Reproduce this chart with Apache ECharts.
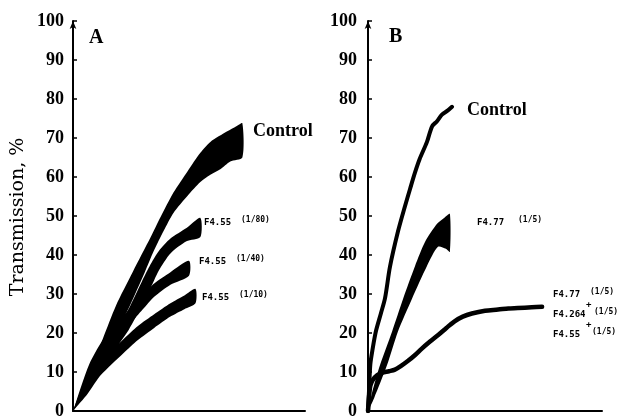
<!DOCTYPE html>
<html>
<head>
<meta charset="utf-8">
<script src="https://cdn.jsdelivr.net/npm/echarts/dist/echarts.min.js"></script>
<style>
  html, body { margin: 0; padding: 0; background: #fff; }
  #chart { width: 618px; height: 420px; }
</style>
</head>
<body>
<div id="chart"></div>
<script>
// panel A: each trace is a thick noisy band, kept as upper / lower edge [time, %]
var controlA_upper = [[0,0],[3.4,5.4],[7.3,10.2],[12.9,18.6],[18.5,27.0],[25.8,35.7],[33.5,44.6],[37.8,49.8],[43.3,56.0],[49.4,61.5],[54.9,66.2],[59.2,69.0],[66.5,71.7],[70.4,73.0],[73.0,73.8]];
var controlA_lower = [[0,0],[7.7,7.1],[16.3,17.3],[24.5,27.0],[30.9,35.5],[34.8,41.0],[39.1,46.2],[43.3,50.8],[49.4,55.2],[54.9,58.7],[59.2,60.6],[63.5,62.0],[67.8,64.0],[73.0,65.0]];

var f55_80_upper = [[0,0],[8,10],[16,17.9],[24,26.2],[29.6,33.1],[33,37.1],[37,41],[42,44.2],[48.9,46.9],[54.9,49.5]];
var f55_80_lower = [[0,0],[8,7],[16,14.1],[24,20.8],[29.6,26.9],[33,30.9],[37,36],[42,40.4],[48.9,43.5],[54.9,44.6]];

var f55_40_upper = [[0,0],[7,12],[14.2,19.5],[20,23.3],[24.9,26.5],[30,29.8],[35,32.7],[42,35.6],[50,38.5]];
var f55_40_lower = [[0,0],[7,7],[14.2,14.5],[20,18.9],[24.9,22.5],[30,26],[35,29.3],[42,32.4],[50,34.7]];

var f55_10_upper = [[0,0],[6.4,7.5],[12,12.9],[21.5,18.3],[28,21.8],[35,24.8],[42,27.6],[48,29.6],[52.8,31.3]];
var f55_10_lower = [[0,0],[6.4,4.5],[12,9.2],[21.5,14.7],[28,18.2],[35,21.3],[42,24.2],[48,26.1],[52.8,27.6]];

// panel B
var controlB = [[0,0],[0.5,6],[1,12],[2,16],[3.4,20.5],[5.5,25],[7.3,29],[9.4,37],[12.8,46],[15.8,52.5],[18,57],[20,61],[22,64.5],[25.2,69],[27.4,73],[29.5,74.3],[31.6,76],[34,77],[35.9,78]];
var f77_upper = [[0,0],[1.7,4.6],[5.1,11.7],[10.3,20.4],[15.0,28.8],[20.1,37.2],[24.4,43.4],[29.5,48.0],[32.9,49.7],[35.0,50.5]];
var f77_lower = [[0,0],[2.6,3.3],[8.1,11.7],[12.8,20.4],[18.8,28.8],[25.2,37.2],[29.9,42.1],[33.3,41.6],[35.0,40.8]];
var mixB = [[0,0],[0.5,4],[1,6.5],[2.1,8],[4,9.2],[6,9.8],[9,10.2],[11.5,10.6],[14,11.5],[17,12.8],[20,14.3],[23,16],[26.5,17.8],[30,19.5],[33.5,21.3],[37,23],[40.5,24.2],[44.4,25],[50,25.7],[55.6,26],[60,26.3],[64,26.4],[70,26.6],[74.4,26.7]];

var yTicks = [0, 100, 10]; // min, max, step

var chart = echarts.init(document.getElementById('chart'));

function band(idx, upper, lower) {
  return {
    type: 'custom',
    xAxisIndex: idx,
    yAxisIndex: idx,
    silent: true,
    data: [[0, 0]],
    renderItem: function (params, api) {
      var pts = upper.concat(lower.slice().reverse()).map(function (p) {
        return api.coord(p);
      });
      return { type: 'polygon', shape: { points: pts, smooth: 0.25 }, style: { fill: '#000' } };
    }
  };
}

function trace(idx, data, w) {
  return {
    type: 'line', xAxisIndex: idx, yAxisIndex: idx,
    data: data, showSymbol: false, smooth: 0.3, silent: true,
    lineStyle: { color: '#000', width: w, cap: 'round', join: 'round' }
  };
}

var serif = 'Liberation Serif';
var mono = 'DejaVu Sans Mono';

function yAx(idx) {
  return {
    type: 'value', gridIndex: idx, min: yTicks[0], max: yTicks[1], interval: yTicks[2],
    axisLine: { show: true, symbol: ['none', 'arrow'], symbolSize: [5, 8], lineStyle: { color: '#000', width: 2 } },
    axisTick: { show: true, inside: true, length: 4, lineStyle: { color: '#000', width: 1.5 } },
    axisLabel: { color: '#000', fontFamily: serif, fontWeight: 'bold', fontSize: 18, margin: idx ? 11 : 9 },
    splitLine: { show: false }
  };
}
function xAx(idx) {
  return {
    type: 'value', gridIndex: idx, min: 0, max: 100,
    axisLine: { show: true, onZero: false, lineStyle: { color: '#000', width: 2 } },
    axisTick: { show: false }, axisLabel: { show: false }, splitLine: { show: false }
  };
}

function txt(x, y, s, font, size, weight) {
  return {
    type: 'text', x: x, y: y, silent: true,
    style: { text: s, fill: '#000', fontFamily: font, fontSize: size, fontWeight: weight || 'normal',
             align: 'left', verticalAlign: 'middle' }
  };
}
function tag(x, y, main, frac) {
  return [txt(x, y, main, mono, 9, 'bold'), txt(x + 37, y - 3, frac, mono, 8, 'bold')];
}

var graphics = [
  {
    type: 'text', x: 18, y: 217, rotation: Math.PI / 2, silent: true,
    style: { text: 'Transmission, %', fill: '#000', fontFamily: 'DejaVu Serif', fontSize: 19,
             align: 'center', verticalAlign: 'middle' }
  },
  txt(89, 38, 'A', serif, 20, 'bold'),
  txt(389, 37, 'B', serif, 20, 'bold'),
  txt(253, 131, 'Control', serif, 18, 'bold'),
  txt(467, 110, 'Control', serif, 18, 'bold')
]
  .concat(tag(204, 223, 'F4.55', '(1/80)'))
  .concat(tag(199, 262, 'F4.55', '(1/40)'))
  .concat(tag(202, 298, 'F4.55', '(1/10)'))
  .concat([txt(477, 223, 'F4.77', mono, 9, 'bold'), txt(518, 220, '(1/5)', mono, 8, 'bold')])
  .concat([txt(553, 295, 'F4.77', mono, 9, 'bold'), txt(590, 292, '(1/5)', mono, 8, 'bold')])
  .concat([txt(586, 305, '+', mono, 9, 'bold')])
  .concat([txt(553, 315, 'F4.264', mono, 9, 'bold'), txt(594, 312, '(1/5)', mono, 8, 'bold')])
  .concat([txt(586, 325, '+', mono, 9, 'bold')])
  .concat([txt(553, 335, 'F4.55', mono, 9, 'bold'), txt(592, 332, '(1/5)', mono, 8, 'bold')]);

chart.setOption({
  backgroundColor: '#fff',
  animation: false,
  grid: [
    { left: 73, top: 21, width: 232, height: 392 },
    { left: 368, top: 21, width: 234, height: 392 }
  ],
  xAxis: [xAx(0), xAx(1)],
  yAxis: [yAx(0), yAx(1)],
  series: [
    band(0, controlA_upper, controlA_lower),
    band(0, f55_80_upper, f55_80_lower),
    band(0, f55_40_upper, f55_40_lower),
    band(0, f55_10_upper, f55_10_lower),
    trace(1, controlB, 4),
    band(1, f77_upper, f77_lower),
    trace(1, mixB, 4.5)
  ],
  graphic: graphics
});
</script>
</body>
</html>
